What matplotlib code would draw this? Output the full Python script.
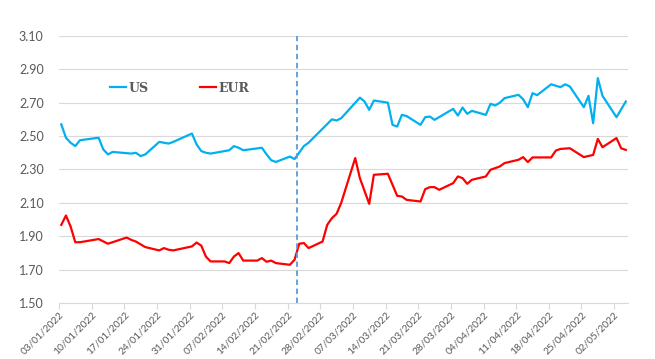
import pandas as pd
import matplotlib
matplotlib.use("Agg")
import matplotlib.pyplot as plt
import matplotlib.dates as mdates

# US series (vertices)
us_dates = ["03/01", "04/01", "05/01", "06/01", "07/01", "11/01", "12/01", "13/01", "14/01",
            "18/01", "19/01", "20/01", "21/01", "24/01", "26/01", "27/01", "31/01", "01/02",
            "02/02", "03/02", "04/02", "08/02", "09/02", "10/02", "11/02", "15/02", "16/02",
            "17/02", "18/02", "21/02", "22/02", "24/02", "25/02", "02/03", "03/03", "04/03",
            "08/03", "09/03", "10/03", "11/03", "14/03", "15/03", "16/03", "17/03", "18/03",
            "21/03", "22/03", "23/03", "24/03", "28/03", "29/03", "30/03", "31/03", "01/04",
            "04/04", "05/04", "06/04", "07/04", "08/04", "11/04", "12/04", "13/04", "14/04",
            "15/04", "18/04", "20/04", "21/04", "22/04", "25/04", "26/04", "27/04", "28/04",
            "29/04", "02/05", "04/05"]
us_values = [2.57, 2.49, 2.46, 2.44, 2.475, 2.49, 2.42, 2.39, 2.405,
             2.395, 2.40, 2.38, 2.39, 2.465, 2.455, 2.465, 2.515, 2.45,
             2.41, 2.40, 2.395, 2.415, 2.44, 2.43, 2.415, 2.43, 2.39,
             2.355, 2.345, 2.377, 2.362, 2.44, 2.46, 2.60, 2.593, 2.607,
             2.73, 2.707, 2.657, 2.713, 2.70, 2.567, 2.557, 2.627, 2.62,
             2.567, 2.613, 2.617, 2.597, 2.663, 2.623, 2.671, 2.633, 2.651,
             2.627, 2.693, 2.683, 2.70, 2.727, 2.747, 2.72, 2.673, 2.757,
             2.745, 2.81, 2.793, 2.81, 2.797, 2.673, 2.741, 2.577, 2.847,
             2.741, 2.613, 2.707]

# EUR series
eur_dates = ["03/01", "04/01", "05/01", "06/01", "07/01", "11/01", "13/01", "17/01", "18/01",
             "19/01", "21/01", "24/01", "25/01", "26/01", "27/01", "31/01", "01/02", "02/02",
             "03/02", "04/02", "07/02", "08/02", "09/02", "10/02", "11/02", "14/02", "15/02",
             "16/02", "17/02", "18/02", "21/02", "22/02", "23/02", "24/02", "25/02", "28/02",
             "01/03", "02/03", "03/03", "04/03", "07/03", "08/03", "10/03", "11/03", "14/03",
             "15/03", "16/03", "17/03", "18/03", "21/03", "22/03", "23/03", "24/03", "25/03",
             "28/03", "29/03", "30/03", "31/03", "01/04", "04/04", "05/04", "06/04", "07/04",
             "08/04", "11/04", "12/04", "13/04", "14/04", "18/04", "19/04", "20/04", "22/04",
             "25/04", "27/04", "28/04", "29/04", "02/05", "03/05", "04/05"]
eur_values = [1.968, 2.024, 1.958, 1.864, 1.864, 1.883, 1.855, 1.892, 1.878,
              1.868, 1.835, 1.815, 1.829, 1.819, 1.815, 1.839, 1.862, 1.844,
              1.778, 1.749, 1.749, 1.739, 1.778, 1.799, 1.754, 1.754, 1.769,
              1.747, 1.754, 1.739, 1.729, 1.759, 1.855, 1.859, 1.829, 1.868,
              1.968, 2.008, 2.034, 2.10, 2.368, 2.248, 2.094, 2.268, 2.274,
              2.208, 2.142, 2.138, 2.118, 2.108, 2.182, 2.194, 2.194, 2.178,
              2.218, 2.258, 2.248, 2.214, 2.238, 2.258, 2.298, 2.308, 2.318,
              2.338, 2.358, 2.374, 2.344, 2.372, 2.372, 2.413, 2.423, 2.427,
              2.374, 2.387, 2.483, 2.433, 2.488, 2.427, 2.417]

event_date = "23/02"
x_start, x_end = "03/01", "05/05"
y_ticks = [1.50, 1.70, 1.90, 2.10, 2.30, 2.50, 2.70, 2.90, 3.10]


def to_dt(days):
    return pd.to_datetime([d + "/2022" for d in days], format="%d/%m/%Y")


# points sit in the middle of their day, like an Excel date axis
half_day = pd.Timedelta(hours=12)
us_x = to_dt(us_dates) + half_day
eur_x = to_dt(eur_dates) + half_day

grey = "#595959"
fig = plt.figure(figsize=(6.55, 3.59), dpi=100)
ax = fig.add_axes([0.09, 0.156, 0.869, 0.744])

ax.plot(us_x, us_values, color="#00B0F0", lw=1.6, label="US")
ax.plot(eur_x, eur_values, color="#FF0000", lw=1.6, label="EUR")
ax.axvline(to_dt([event_date])[0], color="#5B9BD5", lw=1.3, ls=(0, (3, 2)))

ax.set_ylim(1.50, 3.10)
ax.set_yticks(y_ticks)
ax.yaxis.set_major_formatter(matplotlib.ticker.FormatStrFormatter("%.2f"))
ax.grid(axis="y", color="#d9d9d9", lw=0.8)
ax.set_axisbelow(True)

t0, t1 = to_dt([x_start, x_end])
ax.set_xlim(t0, t1)
ax.set_xticks(pd.date_range(t0, t1, freq="7D"))
ax.xaxis.set_major_formatter(mdates.DateFormatter("%d/%m/%Y"))

for s in ["top", "right", "left"]:
    ax.spines[s].set_visible(False)
ax.spines["bottom"].set_color("#d9d9d9")
ax.tick_params(axis="y", length=0, pad=11, labelsize=9, labelcolor=grey)
ax.tick_params(axis="x", length=4, color="#d9d9d9", labelsize=7.3, labelcolor=grey, pad=1)
for lab in ax.get_yticklabels() + ax.get_xticklabels():
    lab.set_family("Lato")
for lab in ax.get_xticklabels():
    lab.set_rotation(45)
    lab.set_ha("right")
    lab.set_rotation_mode("anchor")

leg = ax.legend(loc="upper left", bbox_to_anchor=(0.07, 0.87), ncol=2, frameon=False,
                handlelength=1.3, handletextpad=0.2, columnspacing=4.1,
                prop={"family": "DejaVu Serif", "weight": "bold", "size": 9})
for t in leg.get_texts():
    t.set_color(grey)

fig.savefig("out.png", dpi=100)
